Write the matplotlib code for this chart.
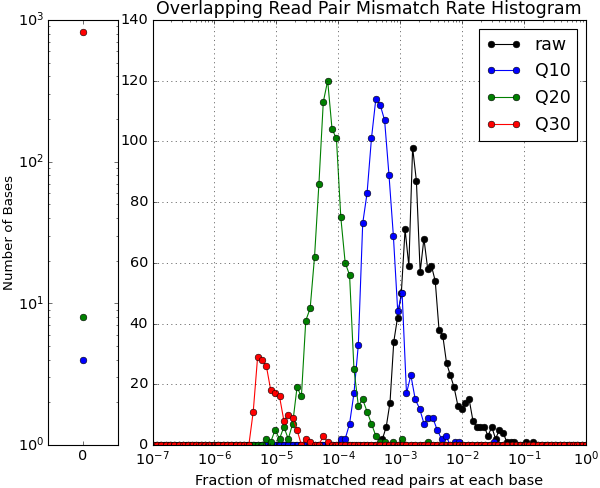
import numpy as np
import matplotlib
matplotlib.use('Agg')
import matplotlib.pyplot as plt

plt.style.use('classic')
plt.rcParams['font.size'] = 13

labels = ['raw', 'Q10', 'Q20', 'Q30']
colors = ['k', 'b', 'g', 'r']

# bases where no overlapping pair mismatched (left panel)
zero_counts = [0, 4, 8, 826]

# log bins for the mismatch fraction
raw_bins = np.logspace(-7, 0, 116)
q_bins = np.logspace(-7, 0, 100)

# counts, starting at the first non-empty bin
raw_start = 61
raw_counts = [2, 6, 14, 34, 42, 50, 71, 59, 98, 87, 57, 68, 58, 59, 54, 38, 36, 27,
              23, 19, 13, 12, 14, 15, 8, 6, 6, 6, 3, 6, 2, 5, 4, 1, 1, 1, 0, 0, 1, 0, 1]
q10_start = 43
q10_counts = [2, 2, 7, 17, 33, 73, 83, 101, 114, 112, 107, 89, 69, 44, 50, 17, 23, 15,
              12, 7, 9, 9, 5, 2, 3, 0, 1, 1, 0, 0, 0, 0, 0, 0, 0, 1]
q20_start = 26
q20_counts = [2, 1, 5, 2, 6, 2, 7, 19, 16, 41, 45, 62, 86, 113, 120, 104, 101, 75, 60,
              56, 25, 13, 15, 11, 7, 3, 1, 1, 0, 1, 0, 2, 0, 0, 0, 0, 0, 1]
q30_start = 23
q30_counts = [11, 29, 28, 26, 18, 17, 16, 8, 10, 9, 5, 0, 2, 1, 0, 0, 3, 1]


def fill_hist(bins, start, counts):
    hist = np.zeros(len(bins))
    hist[start:start + len(counts)] = counts
    return hist


series = [
    (raw_bins, fill_hist(raw_bins, raw_start, raw_counts)),
    (q_bins, fill_hist(q_bins, q10_start, q10_counts)),
    (q_bins, fill_hist(q_bins, q20_start, q20_counts)),
    (q_bins, fill_hist(q_bins, q30_start, q30_counts)),
]

fig = plt.figure(figsize=(7.5, 6.1), dpi=80)
ax1 = fig.add_axes([0.0805, 0.0881, 0.1157, 0.8709])
ax2 = fig.add_axes([0.2542, 0.0881, 0.7225, 0.8709])

# left panel: exact zeros
for count, c in zip(zero_counts, colors):
    if count > 0:
        ax1.plot([0], [count], 'o', color=c, mec='k', mew=0.5)
ax1.set_yscale('log')
ax1.set_ylim(1, 1000)
ax1.set_xlim(-0.5, 0.5)
ax1.set_xticks([0])
ax1.set_ylabel('Number of Bases', fontsize=12)
ax1.yaxis.set_label_coords(-0.46, 0.5)

# right panel: histogram of fractions
for (x, y), c, lab in zip(series, colors, labels):
    ax2.plot(x, y, '-o', color=c, mec='k', mew=0.5, label=lab)
ax2.set_xscale('log')
ax2.set_xlim(1e-7, 1)
ax2.set_ylim(0, 140)
ax2.grid(True)
ax2.set_title('Overlapping Read Pair Mismatch Rate Histogram')
ax2.set_xlabel('Fraction of mismatched read pairs at each base')
ax2.legend(loc='upper right')

fig.savefig('out.png', dpi=80)
